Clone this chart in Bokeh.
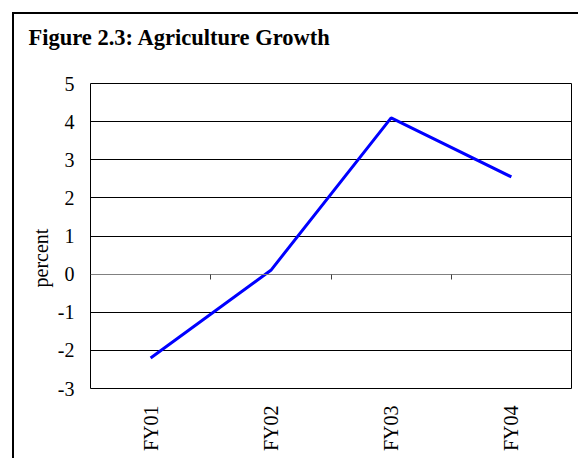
import math
from bokeh.plotting import figure
from bokeh.models import Range1d, FactorRange, FixedTicker, CategoricalAxis, Title
from bokeh.embed import file_html
from bokeh.resources import INLINE

categories = ["FY01", "FY02", "FY03", "FY04"]
growth = [-2.2, 0.1, 4.1, 2.55]
y_ticks = [-3, -2, -1, 0, 1, 2, 3, 4, 5]
title_text = "Figure 2.3: Agriculture Growth"
y_label = "percent"
# boundaries between neighbouring categories (where the zero line has ticks)
boundaries = [a + "|" + b for a, b in zip(categories[:-1], categories[1:])]

SERIF = "Liberation Serif"

p = figure(
    x_range=FactorRange(*categories),
    y_range=Range1d(-3, 5),
    width=566, height=446,
    output_backend="svg", toolbar_location=None,
    margin=(12, 0, 0, 12),
    styles={"border-left": "2px solid black", "border-top": "2px solid black"},
    min_border_left=76, min_border_right=9, min_border_top=69, min_border_bottom=72,
    background_fill_color="white", border_fill_color="white",
)

p.title.text = title_text
p.title.text_font = SERIF
p.title.text_font_size = "22.5px"
p.title.text_font_style = "bold"
p.title.text_color = "black"
p.title.align = "left"
p.title.offset = -62
p.title.standoff = 0

# blank spacer between the title and the plot area
p.add_layout(Title(text=" ", text_font_size="20px", standoff=10), "above")

p.outline_line_color = "black"
p.outline_line_width = 1
p.outline_line_alpha = 1

p.xgrid.grid_line_color = None
p.ygrid.ticker = FixedTicker(ticks=y_ticks)
p.ygrid.grid_line_color = "black"
p.ygrid.grid_line_width = 1

p.yaxis.ticker = FixedTicker(ticks=y_ticks)
p.yaxis.major_label_overrides = {t: str(t) for t in y_ticks}
p.yaxis.axis_line_color = None
p.yaxis.major_tick_line_color = None
p.yaxis.minor_tick_line_color = None
p.yaxis.major_tick_out = 0
p.yaxis.major_tick_in = 0
p.yaxis.major_label_standoff = 16
p.yaxis.major_label_text_font = SERIF
p.yaxis.major_label_text_font_size = "20px"
p.yaxis.major_label_text_color = "black"

p.xaxis.axis_line_color = None
p.xaxis.major_tick_line_color = None
p.xaxis.major_tick_out = 0
p.xaxis.major_tick_in = 0
p.xaxis.major_label_orientation = math.pi / 2
p.xaxis.major_label_standoff = 17
p.xaxis.major_label_text_font = SERIF
p.xaxis.major_label_text_font_size = "20px"
p.xaxis.major_label_text_color = "black"

# zero line with tick marks between categories
p.extra_x_ranges = {"bounds": FactorRange(*boundaries, range_padding=0.5,
                                          range_padding_units="absolute")}
zero_axis = CategoricalAxis(
    x_range_name="bounds", fixed_location=0,
    axis_line_color="#808080", axis_line_width=1,
    major_tick_line_color="#404040", major_tick_out=5, major_tick_in=0,
    minor_tick_line_color=None,
    major_label_text_font_size="0px", major_label_text_alpha=0,
)
p.add_layout(zero_axis, "below")

p.line(x=categories, y=growth, line_color="#0000FF", line_width=3)

ytitle = Title(text=y_label, align="left", offset=101, standoff=6,
               text_font=SERIF, text_font_size="20px", text_font_style="normal",
               text_color="black")
p.add_layout(ytitle, "left")

open("out.html", "w").write(file_html(p, INLINE))
